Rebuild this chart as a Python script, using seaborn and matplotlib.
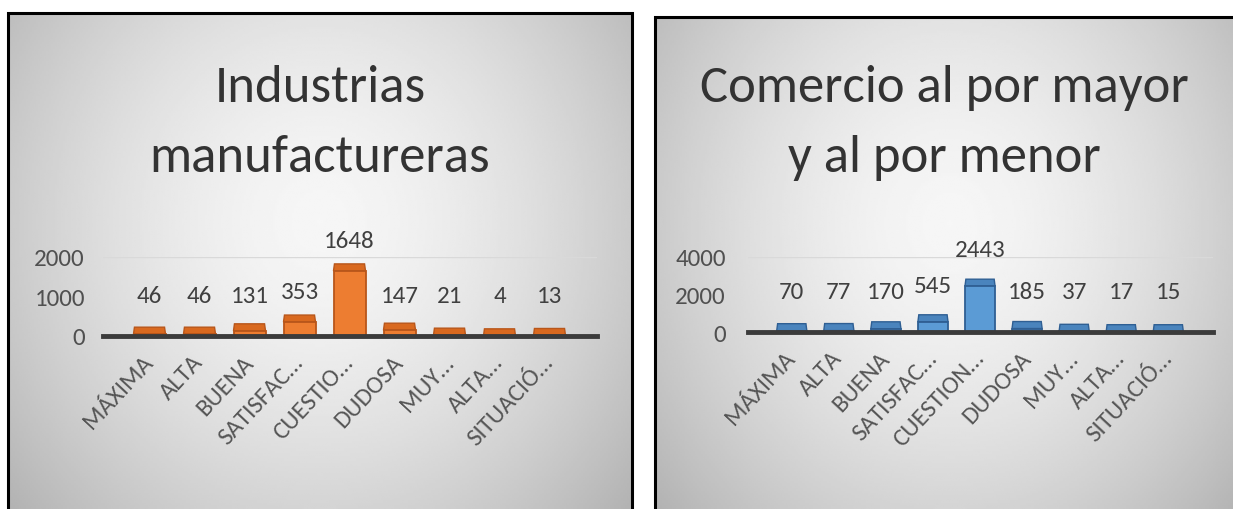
import numpy as np
import pandas as pd
import matplotlib
matplotlib.use("Agg")
import matplotlib.pyplot as plt
import seaborn as sns
from matplotlib import font_manager
from matplotlib.patches import Rectangle, Polygon

# ---------------- data ----------------
categories_manufactura = ["MÁXIMA", "ALTA", "BUENA", "SATISFAC…", "CUESTIO…",
                          "DUDOSA", "MUY…", "ALTA…", "SITUACIÓ…"]
categories_comercio = ["MÁXIMA", "ALTA", "BUENA", "SATISFAC…", "CUESTION…",
                       "DUDOSA", "MUY…", "ALTA…", "SITUACIÓ…"]
values_manufactura = [46, 46, 131, 353, 1648, 147, 21, 4, 13]
values_comercio = [70, 77, 170, 545, 2443, 185, 37, 17, 15]
yticks_manufactura = [0, 1000, 2000]
yticks_comercio = [0, 2000, 4000]
title_manufactura = "Industrias\nmanufactureras"
title_comercio = "Comercio al por mayor\ny al por menor"

# ---------------- style ----------------
sns.set_theme(style="white")
avail = {f.name for f in font_manager.fontManager.ttflist}
FONT = "Carlito" if "Carlito" in avail else "Liberation Sans"
plt.rcParams["font.family"] = [FONT, "DejaVu Sans"]

W, H = 1233, 510
fig = plt.figure(figsize=(W / 100, H / 100), dpi=100)
fig.patch.set_facecolor("white")

LBL = 18
TITLE = 38


def fx(px):
    return px / W


def fy(py):
    return 1 - py / H


def panel_background(x0, x1, ytop):
    bg = fig.add_axes([fx(x0), 0, fx(x1 - x0), fy(ytop)], zorder=-5)
    ny, nx = 200, 300
    X, Y = np.meshgrid(np.linspace(0, 1, nx), np.linspace(0, 1, ny))
    r = np.sqrt(((X - 0.5) / 0.55) ** 2 + ((Y - 0.42) / 0.75) ** 2)
    val = np.clip(0.965 - 0.20 * r ** 1.6, 0, 1)
    bg.imshow(val, cmap="gray", vmin=0, vmax=1, aspect="auto",
              extent=[0, 1, 1, 0], interpolation="bilinear")
    bg.set_axis_off()
    fig.add_artist(Rectangle((fx(x0), fy(H + 10)), fx(x1 - x0), fy(ytop) - fy(H + 10),
                             transform=fig.transFigure, fill=False,
                             edgecolor="black", linewidth=2.2, zorder=10))


def draw_panel(cats, vals, yticks, title, color, edge, top_color,
               ax_px, ypx0, ypx_top, title_cx, ylabel_pad,
               label_floor, label_pad_px):
    x0, x1 = ax_px
    ax = fig.add_axes([fx(x0), fy(ypx0), fx(x1 - x0), (ypx0 - ypx_top) / H])
    ax.patch.set_alpha(0)
    df = pd.DataFrame({"cat": cats, "val": vals})
    sns.barplot(data=df, x="cat", y="val", color=color, width=0.64,
                edgecolor=edge, linewidth=1.3, saturation=1, ax=ax, zorder=3)
    ax.set_ylim(0, yticks[-1])
    ax.set_xlim(-0.93, 8.95)
    ax.set_yticks(yticks)
    ax.set_yticklabels([str(t) for t in yticks])
    ax.set_xlabel("")
    ax.set_ylabel("")
    for s in ["top", "right", "left"]:
        ax.spines[s].set_visible(False)
    ax.spines["bottom"].set_color("#3b3b3b")
    ax.spines["bottom"].set_linewidth(3.5)
    ax.spines["bottom"].set_zorder(6)
    ax.axhline(yticks[-1], color="#d9d9d9", lw=1.0, zorder=1)
    ax.tick_params(axis="y", length=0, pad=ylabel_pad, labelsize=LBL,
                   labelcolor="#505050")
    ax.tick_params(axis="x", length=0, pad=16, labelsize=LBL,
                   labelcolor="#555555")
    for lab in ax.get_xticklabels():
        lab.set_rotation(47)
        lab.set_ha("right")
        lab.set_va("center")
        lab.set_rotation_mode("anchor")

    # pseudo-3D top face of each bar
    depth_px = 7
    dy = depth_px * yticks[-1] / ax.bbox.height
    for p in ax.patches:
        bx, bw, bh = p.get_x(), p.get_width(), p.get_height()
        face = Polygon([(bx, bh), (bx + bw, bh), (bx + bw * 0.97, bh + dy),
                        (bx + bw * 0.03, bh + dy)], closed=True,
                       facecolor=top_color, edgecolor=edge, linewidth=1.0,
                       zorder=2.5, clip_on=False)
        ax.add_patch(face)

    # data labels
    for i, v in enumerate(vals):
        ax.annotate(str(v), xy=(i, max(v, label_floor)),
                    xytext=(0, label_pad_px * 0.72), textcoords="offset points",
                    ha="center", va="bottom", fontsize=LBL, color="#404040",
                    annotation_clip=False)

    for k, line in enumerate(title.split("\n")):
        fig.text(fx(title_cx), fy(102 + 70 * k), line, ha="center",
                 va="baseline", fontsize=TITLE, color="#333333")
    return ax


panel_background(8, 632, 14)
panel_background(655, 1245, 18)

draw_panel(categories_manufactura, values_manufactura, yticks_manufactura,
           title_manufactura, "#ED7D31", "#B8561A", "#D9691F",
           (103, 597), 337, 258, 320, 13, 254, 20)
draw_panel(categories_comercio, values_comercio, yticks_comercio,
           title_comercio, "#5B9BD5", "#2F5F93", "#4A84BD",
           (748, 1213), 333, 258, 944, 16, 213, 26)

fig.savefig("out.png", dpi=100, facecolor="white")
